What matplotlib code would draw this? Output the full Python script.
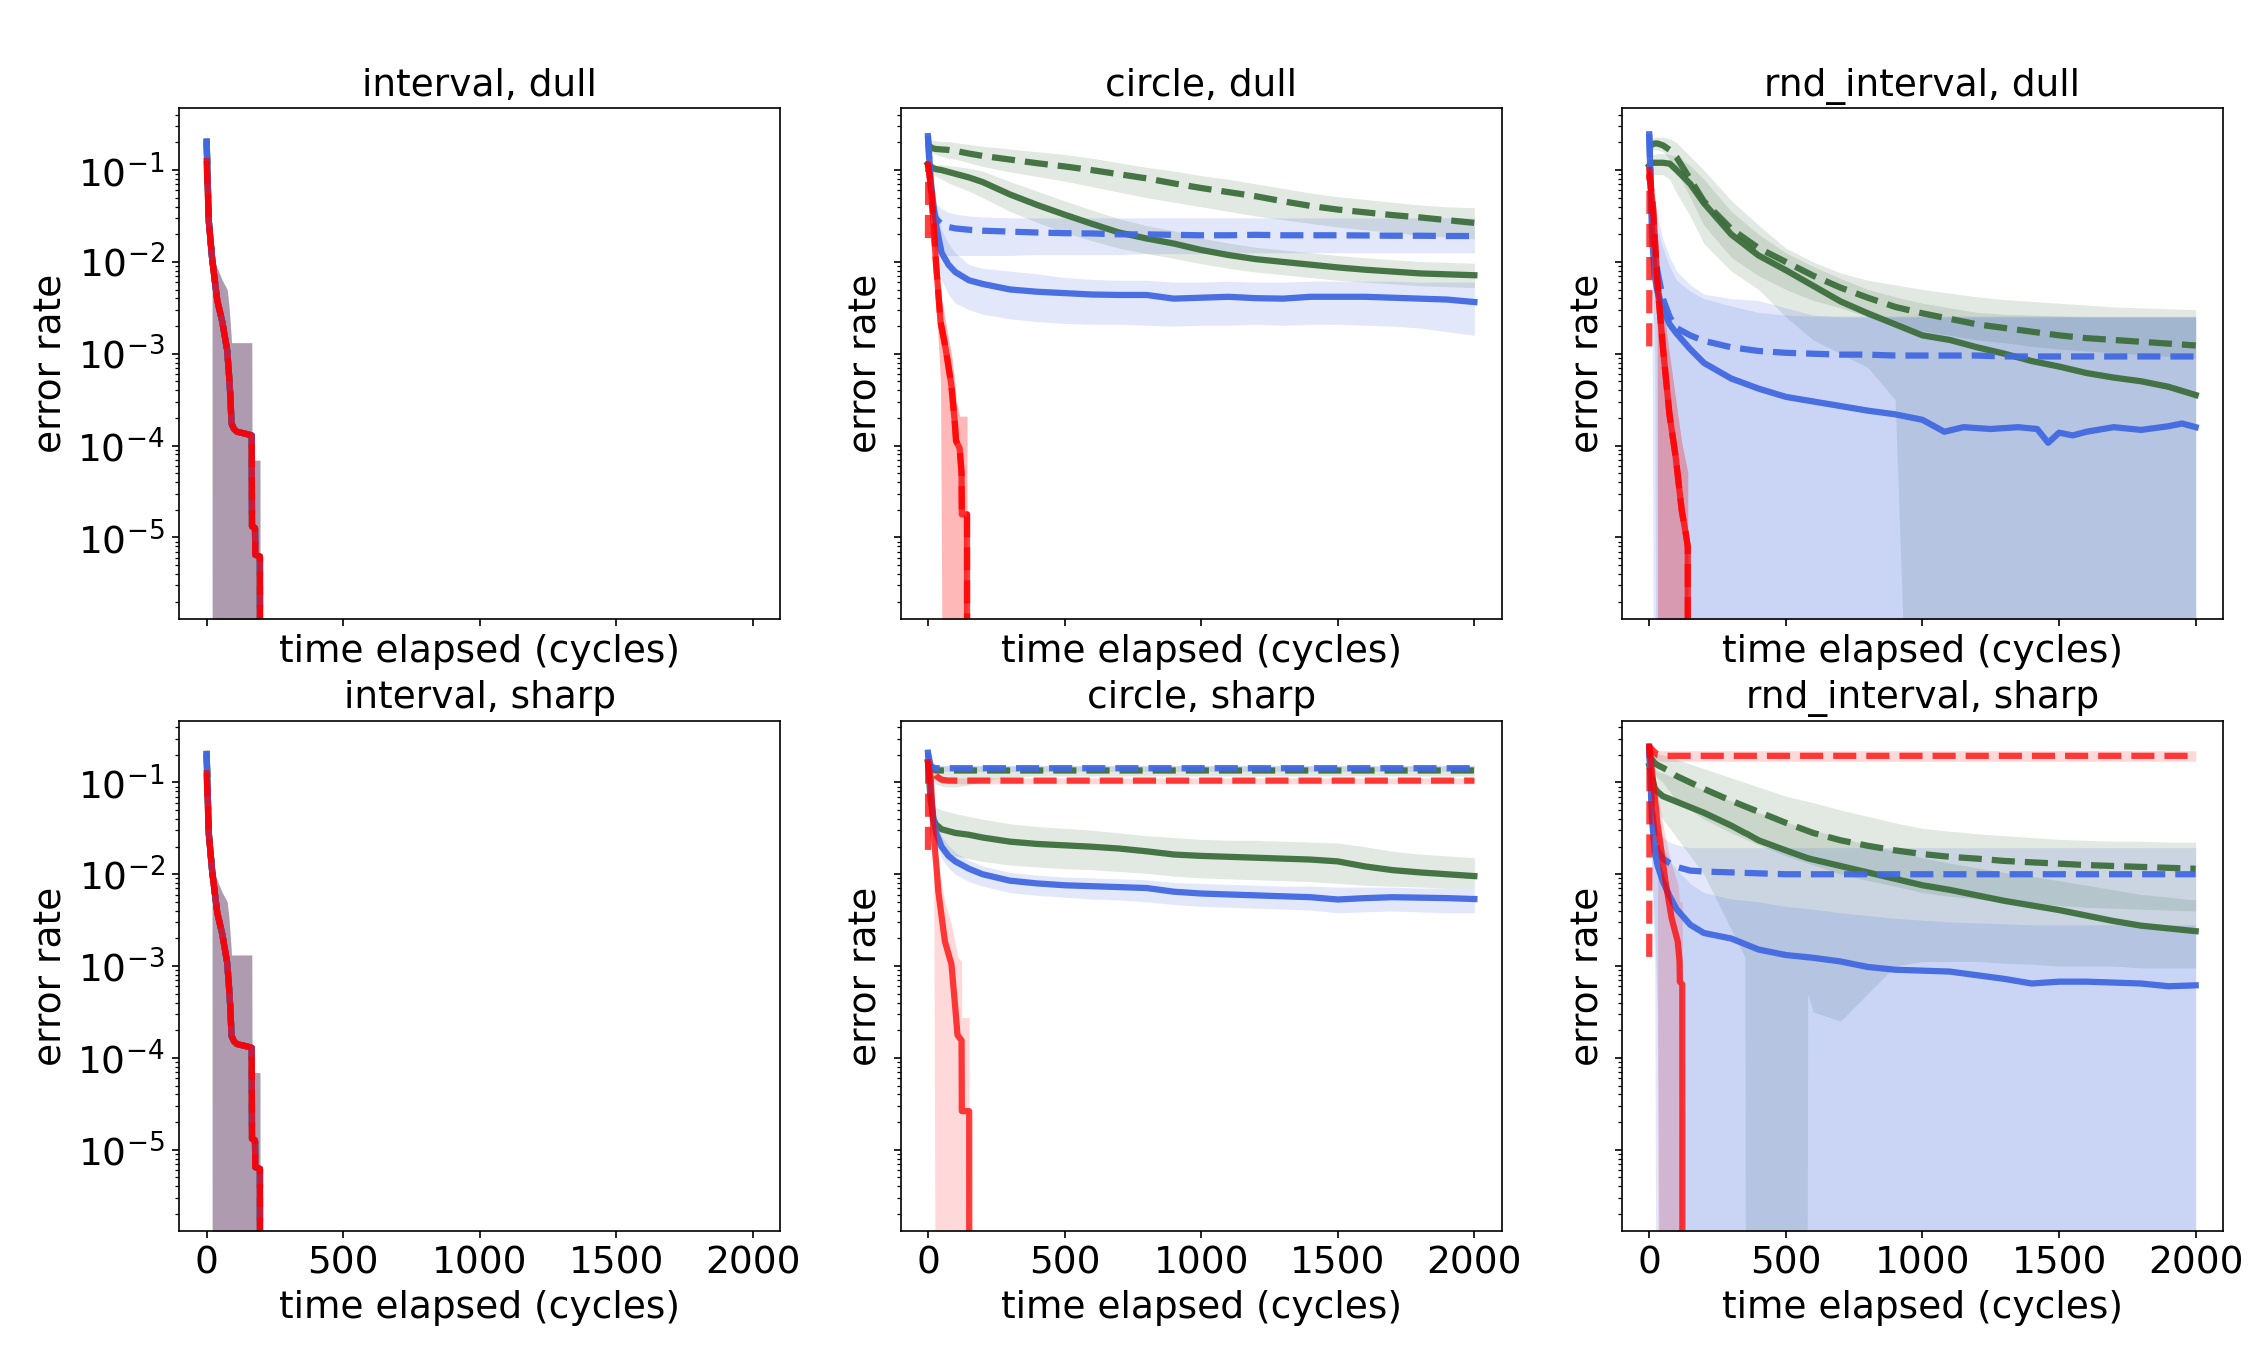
import numpy as np
import matplotlib
matplotlib.use('Agg')
import matplotlib.pyplot as plt

plt.rcParams['font.size'] = 18
plt.rcParams['axes.titlesize'] = 18

# all curve values below are log10(error rate)
# -12 means "dropped to zero" (falls off the bottom of the log axis)

G = [0, 10, 20, 30, 50, 75, 100, 150, 200, 300, 400, 500, 600, 700, 800,
     900, 1000, 1100, 1200, 1300, 1400, 1500, 1600, 1700, 1800, 1900, 2000]

# ---- interval (dull and sharp look the same) ----
int_x = [0, 8, 20, 21, 39, 57, 75, 81, 87, 91, 100, 111, 140, 165, 166, 177, 178, 195, 196]
int_red = [-0.90, -1.56, -1.96, -1.99, -2.42, -2.65, -2.96, -3.19, -3.47, -3.76, -3.82,
           -3.85, -3.87, -3.89, -4.88, -4.90, -5.19, -5.21, -12]
int_blue = [-0.69, -1.56, -1.96, -1.99, -2.42, -2.65, -2.96, -3.19, -3.47, -3.76, -3.82,
            -3.85, -3.87, -3.89, -4.88, -4.90, -5.19, -5.21, -12]
int_hi = [-0.60, -1.30, -1.88, -1.91, -2.07, -2.20, -2.30, -2.46, -2.70, -2.88, -2.88,
          -2.88, -2.88, -2.88, -4.16, -4.16, -4.16, -4.16, -12]
int_lo = [-1.00, -1.75, -2.0, -12, -12, -12, -12, -12, -12, -12, -12, -12, -12, -12, -12,
          -12, -12, -12, -12]

# ---- circle, dull ----
cd_gd = [-0.72, -0.75, -0.765, -0.77, -0.775, -0.78, -0.79, -0.82, -0.845, -0.885, -0.925,
         -0.96, -1.0, -1.045, -1.09, -1.145, -1.195, -1.24, -1.285, -1.34, -1.39, -1.43,
         -1.46, -1.49, -1.515, -1.545, -1.575]
cd_gd_hi = [-0.66, -0.67, -0.68, -0.68, -0.69, -0.69, -0.70, -0.72, -0.74, -0.77, -0.80,
            -0.83, -0.87, -0.92, -0.97, -1.01, -1.06, -1.10, -1.15, -1.20, -1.25, -1.29,
            -1.32, -1.35, -1.38, -1.40, -1.41]
cd_gd_lo = [-0.78, -0.80, -0.82, -0.83, -0.85, -0.87, -0.88, -0.92, -0.96, -1.02, -1.07,
            -1.12, -1.18, -1.24, -1.30, -1.35, -1.40, -1.45, -1.50, -1.54, -1.58, -1.62,
            -1.65, -1.68, -1.71, -1.73, -1.75]
cd_gs = [-0.93, -0.96, -0.98, -0.99, -1.0, -1.02, -1.04, -1.08, -1.13, -1.265, -1.38,
         -1.485, -1.585, -1.68, -1.745, -1.8, -1.87, -1.925, -1.97, -2.0, -2.03, -2.06,
         -2.085, -2.105, -2.125, -2.135, -2.145]
cd_gs_hi = [-0.90, -0.92, -0.93, -0.94, -0.94, -0.95, -0.96, -0.98, -1.01, -1.125, -1.23,
            -1.335, -1.435, -1.53, -1.605, -1.66, -1.74, -1.795, -1.84, -1.87, -1.90, -1.93,
            -1.955, -1.975, -1.995, -2.005, -2.015]
cd_gs_lo = [-0.97, -1.02, -1.05, -1.07, -1.10, -1.14, -1.17, -1.23, -1.30, -1.45, -1.57,
            -1.68, -1.77, -1.85, -1.91, -1.96, -2.02, -2.07, -2.11, -2.14, -2.17, -2.20,
            -2.22, -2.24, -2.26, -2.27, -2.28]
cd_bd = [-0.63, -1.2, -1.45, -1.53, -1.59, -1.62, -1.635, -1.65, -1.66, -1.67, -1.68,
         -1.687, -1.69, -1.70, -1.70, -1.705, -1.71, -1.71, -1.705, -1.71, -1.71, -1.71,
         -1.712, -1.715, -1.715, -1.718, -1.718]
cd_bd_hi = [-0.60, -1.0, -1.3, -1.37, -1.42, -1.46, -1.48, -1.50, -1.51, -1.52, -1.52,
            -1.52, -1.52, -1.52, -1.52, -1.52, -1.52, -1.52, -1.52, -1.52, -1.52, -1.52,
            -1.52, -1.52, -1.52, -1.52, -1.52]
cd_bd_lo = [-0.70, -1.5, -1.8, -1.88, -1.92, -1.93, -1.93, -1.93, -1.93, -1.93, -1.92,
            -1.92, -1.92, -1.92, -1.91, -1.91, -1.91, -1.90, -1.90, -1.90, -1.90, -1.90,
            -1.90, -1.90, -1.90, -1.90, -1.90]
cd_bs = [-0.63, -1.1, -1.38, -1.6, -1.9, -2.03, -2.11, -2.2, -2.24, -2.3, -2.325, -2.34,
         -2.355, -2.36, -2.36, -2.4, -2.39, -2.38, -2.395, -2.4, -2.38, -2.38, -2.38,
         -2.39, -2.4, -2.41, -2.437]
cd_bs_hi = [-0.60, -0.95, -1.2, -1.35, -1.65, -1.8, -1.9, -2.03, -2.07, -2.1, -2.13, -2.17,
            -2.19, -2.2, -2.2, -2.22, -2.22, -2.21, -2.22, -2.22, -2.21, -2.21, -2.21,
            -2.21, -2.22, -2.22, -2.22]
cd_bs_lo = [-0.70, -1.3, -1.6, -1.85, -2.2, -2.35, -2.45, -2.52, -2.57, -2.62, -2.65,
            -2.67, -2.68, -2.68, -2.69, -2.7, -2.69, -2.69, -2.68, -2.69, -2.68, -2.68,
            -2.69, -2.7, -2.72, -2.76, -2.8]
cd_red_x = [0, 1, 13, 29, 46, 62, 70, 86, 98, 103, 116, 123, 124, 143, 144]
cd_rs = [-0.94, -0.94, -1.25, -1.99, -2.65, -2.9, -3.04, -3.35, -3.74, -3.95, -4.03, -4.3,
         -4.75, -4.75, -12]
cd_rd = [-1.74, -0.94, -1.25, -1.99, -2.65, -2.9, -3.04, -3.35, -3.74, -3.95, -4.03, -4.3,
         -4.75, -4.75, -12]
cd_r_hi = [-0.85, -0.85, -1.1, -1.7, -2.35, -2.6, -2.75, -3.0, -3.3, -3.5, -3.68, -3.68,
           -3.68, -3.68, -12]
cd_r_lo = [-1.1, -1.1, -1.5, -2.4, -3.3, -12, -12, -12, -12, -12, -12, -12, -12, -12, -12]

# ---- circle, sharp ----
cs_gd = [-0.75, -0.85, -0.86, -0.87, -0.87, -0.87, -0.87, -0.87, -0.87, -0.87, -0.87,
         -0.87, -0.87, -0.87, -0.87, -0.87, -0.87, -0.87, -0.87, -0.87, -0.87, -0.87,
         -0.87, -0.87, -0.87, -0.87, -0.87]
cs_gd_hi = [-0.70, -0.78, -0.80, -0.81, -0.82, -0.82, -0.82, -0.82, -0.82, -0.82, -0.82,
            -0.82, -0.82, -0.82, -0.82, -0.82, -0.82, -0.82, -0.82, -0.82, -0.82, -0.82,
            -0.82, -0.82, -0.82, -0.82, -0.82]
cs_gd_lo = [-0.80, -0.95, -1.0, -1.02, -1.04, -1.05, -1.05, -1.03, -0.98, -0.94, -0.93,
            -0.93, -0.93, -0.93, -0.93, -0.93, -0.93, -0.93, -0.93, -0.93, -0.93, -0.93,
            -0.93, -0.93, -0.93, -0.93, -0.93]
cs_bd = [-0.676, -0.82, -0.84, -0.845, -0.845, -0.845, -0.845, -0.845, -0.845, -0.845,
         -0.845, -0.845, -0.845, -0.845, -0.845, -0.845, -0.845, -0.845, -0.845, -0.845,
         -0.845, -0.845, -0.845, -0.845, -0.845, -0.845, -0.845]
cs_bd_hi = [-0.64, -0.80, -0.81, -0.815, -0.815, -0.815, -0.815, -0.815, -0.815, -0.815,
            -0.815, -0.815, -0.815, -0.815, -0.815, -0.815, -0.815, -0.815, -0.815, -0.815,
            -0.815, -0.815, -0.815, -0.815, -0.815, -0.815, -0.815]
cs_bd_lo = [-0.72, -0.86, -0.875, -0.88, -0.88, -0.88, -0.88, -0.88, -0.88, -0.88, -0.88,
            -0.88, -0.88, -0.88, -0.88, -0.88, -0.88, -0.88, -0.88, -0.88, -0.88, -0.88,
            -0.88, -0.88, -0.88, -0.88, -0.88]
cs_gs = [-0.78, -1.2, -1.4, -1.46, -1.51, -1.53, -1.55, -1.57, -1.6, -1.645, -1.67, -1.685,
         -1.7, -1.72, -1.75, -1.785, -1.8, -1.81, -1.82, -1.83, -1.84, -1.86, -1.915,
         -1.955, -1.98, -2.0, -2.02]
cs_gs_hi = [-0.75, -1.05, -1.22, -1.27, -1.3, -1.32, -1.34, -1.37, -1.4, -1.45, -1.48,
            -1.5, -1.52, -1.55, -1.58, -1.6, -1.62, -1.63, -1.63, -1.64, -1.65, -1.66,
            -1.7, -1.75, -1.78, -1.8, -1.82]
cs_gs_lo = [-0.82, -1.35, -1.6, -1.68, -1.75, -1.78, -1.8, -1.83, -1.86, -1.9, -1.92,
            -1.94, -1.95, -1.97, -1.99, -2.02, -2.04, -2.05, -2.06, -2.07, -2.08, -2.1,
            -2.12, -2.13, -2.14, -2.15, -2.15]
cs_bs = [-0.676, -1.1, -1.4, -1.55, -1.7, -1.8, -1.86, -1.94, -2.0, -2.07, -2.1, -2.12,
         -2.13, -2.14, -2.15, -2.19, -2.21, -2.22, -2.23, -2.24, -2.25, -2.275, -2.26,
         -2.25, -2.255, -2.26, -2.27]
cs_bs_hi = [-0.64, -1.0, -1.28, -1.43, -1.58, -1.69, -1.76, -1.85, -1.91, -1.98, -2.01,
            -2.03, -2.04, -2.05, -2.06, -2.09, -2.1, -2.11, -2.12, -2.13, -2.13, -2.14,
            -2.14, -2.14, -2.15, -2.15, -2.15]
cs_bs_lo = [-0.72, -1.22, -1.52, -1.68, -1.83, -1.93, -2.0, -2.08, -2.13, -2.2, -2.23,
            -2.25, -2.27, -2.28, -2.3, -2.33, -2.35, -2.36, -2.37, -2.38, -2.39, -2.42,
            -2.41, -2.4, -2.41, -2.42, -2.42]
cs_rd_x = [0, 1, 10, 30, 50, 75, 100, 500, 1000, 1500, 2000]
cs_rd = [-1.735, -0.80, -0.85, -0.93, -0.97, -0.98, -0.98, -0.98, -0.98, -0.98, -0.98]
cs_rd_hi = [-1.60, -0.75, -0.80, -0.89, -0.94, -0.95, -0.95, -0.95, -0.95, -0.95, -0.95]
cs_rd_lo = [-1.90, -0.85, -0.90, -0.98, -1.01, -1.015, -1.015, -1.015, -1.015, -1.015, -1.015]
cs_rs_x = [0, 10, 21, 32, 38, 62, 86, 103, 108, 123, 124, 151, 152]
cs_rs = [-0.78, -0.95, -1.57, -1.95, -2.19, -2.73, -2.98, -3.56, -3.75, -3.81, -4.58,
         -4.58, -12]
cs_rs_hi = [-0.70, -0.85, -1.3, -1.65, -1.9, -2.3, -2.55, -2.8, -2.9, -2.95, -3.56,
            -3.56, -12]
cs_rs_lo = [-0.85, -1.1, -1.9, -12, -12, -12, -12, -12, -12, -12, -12, -12, -12]

# ---- rnd_interval, dull ----
rd_gd = [-0.75, -0.72, -0.71, -0.71, -0.73, -0.78, -0.86, -1.1, -1.34, -1.64, -1.85, -2.0,
         -2.15, -2.28, -2.39, -2.49, -2.56, -2.62, -2.68, -2.72, -2.76, -2.8, -2.83, -2.85,
         -2.87, -2.89, -2.91]
rd_gd_hi = [-0.68, -0.66, -0.64, -0.64, -0.64, -0.66, -0.70, -0.85, -1.0, -1.33, -1.6,
            -1.85, -2.0, -2.12, -2.2, -2.25, -2.3, -2.34, -2.38, -2.41, -2.43, -2.45,
            -2.47, -2.49, -2.5, -2.51, -2.52]
rd_gd_lo = [-0.80, -0.78, -0.78, -0.78, -0.80, -0.88, -1.0, -1.3, -1.6, -1.95, -2.15,
            -2.3, -2.42, -2.5, -2.6, -2.68, -2.75, -2.8, -2.85, -2.88, -2.92, -2.95,
            -2.97, -2.99, -3.01, -3.03, -3.05]
rd_gs = [-0.95, -0.92, -0.92, -0.92, -0.92, -0.93, -1.0, -1.15, -1.36, -1.7, -1.93,
         -2.09, -2.26, -2.43, -2.56, -2.68, -2.8, -2.85, -2.93, -3.0, -3.08, -3.14, -3.21,
         -3.26, -3.3, -3.36, -3.45]
rd_gs_hi = [-0.85, -0.84, -0.83, -0.82, -0.82, -0.83, -0.85, -0.95, -1.1, -1.45, -1.7,
            -1.9, -2.05, -2.18, -2.3, -2.38, -2.45, -2.5, -2.55, -2.57, -2.58, -2.59,
            -2.6, -2.6, -2.6, -2.6, -2.6]
rd_gs_lo = [-1.05, -1.05, -1.05, -1.05, -1.05, -1.1, -1.25, -1.5, -1.8, -2.1, -2.3,
            -2.6, -2.85, -3.0, -3.15, -3.5, -12, -12, -12, -12, -12, -12, -12, -12, -12,
            -12, -12]
rd_bd = [-0.61, -1.5, -1.85, -2.1, -2.4, -2.6, -2.72, -2.8, -2.86, -2.93, -2.97, -2.99,
         -3.0, -3.01, -3.01, -3.02, -3.02, -3.02, -3.02, -3.03, -3.03, -3.03, -3.03,
         -3.03, -3.03, -3.03, -3.03]
rd_bd_hi = [-0.55, -1.2, -1.5, -1.65, -1.85, -2.05, -2.2, -2.32, -2.4, -2.48, -2.55,
            -2.58, -2.59, -2.59, -2.59, -2.59, -2.59, -2.59, -2.59, -2.59, -2.59, -2.59,
            -2.59, -2.59, -2.59, -2.59, -2.59]
rd_bd_lo = [-0.70, -2.0, -3.0, -12, -12, -12, -12, -12, -12, -12, -12, -12, -12, -12,
            -12, -12, -12, -12, -12, -12, -12, -12, -12, -12, -12, -12, -12]
rd_bs_x = [0, 10, 20, 30, 50, 75, 100, 150, 200, 300, 400, 500, 600, 700, 800, 900, 1000,
           1080, 1150, 1250, 1350, 1420, 1460, 1500, 1550, 1600, 1700, 1800, 1900, 1950, 2000]
rd_bs = [-0.61, -1.7, -2.15, -2.32, -2.52, -2.68, -2.78, -2.95, -3.1, -3.27, -3.38, -3.47,
         -3.52, -3.57, -3.62, -3.66, -3.72, -3.85, -3.8, -3.82, -3.8, -3.82, -3.97, -3.86,
         -3.89, -3.85, -3.8, -3.83, -3.79, -3.76, -3.8]
rd_bs_hi = [-0.55, -1.1, -1.35, -1.5, -1.75, -1.95, -2.1, -2.25, -2.35, -2.4, -2.42, -2.5,
            -2.58, -2.6, -2.6, -2.6, -2.6, -2.6, -2.6, -2.6, -2.6, -2.6, -2.6, -2.6, -2.6,
            -2.6, -2.6, -2.6, -2.6, -2.6, -2.6]
rd_bs_lo = [-0.70, -2.2, -12, -12, -12, -12, -12, -12, -12, -12, -12, -12, -12, -12, -12,
            -12, -12, -12, -12, -12, -12, -12, -12, -12, -12, -12, -12, -12, -12, -12, -12]
rd_red_x = [0, 1, 14, 29, 33, 51, 74, 97, 119, 135, 141, 142]
rd_rs = [-1.0, -1.05, -1.41, -2.18, -2.35, -2.96, -3.66, -4.13, -4.71, -4.98, -5.1, -12]
rd_rd = [-2.92, -1.05, -1.41, -2.18, -2.35, -2.96, -3.66, -4.13, -4.71, -4.98, -5.1, -12]
rd_r_hi = [-0.9, -0.95, -1.2, -1.8, -1.95, -2.5, -3.0, -3.5, -3.97, -4.2, -4.3, -12]
rd_rs_lo = [-1.1, -1.1, -1.5, -2.3, -12, -12, -12, -12, -12, -12, -12, -12]
rd_rd_lo = [-4.24, -1.1, -1.5, -2.3, -12, -12, -12, -12, -12, -12, -12, -12]

# ---- rnd_interval, sharp ----
rs_gd = [-0.70, -0.75, -0.79, -0.81, -0.84, -0.88, -0.93, -1.0, -1.07, -1.2, -1.32, -1.44,
         -1.55, -1.63, -1.69, -1.74, -1.78, -1.81, -1.83, -1.855, -1.87, -1.885, -1.9,
         -1.91, -1.92, -1.93, -1.94]
rs_gd_hi = [-0.65, -0.66, -0.68, -0.69, -0.7, -0.72, -0.75, -0.8, -0.85, -0.95, -1.05,
            -1.15, -1.22, -1.3, -1.37, -1.44, -1.5, -1.53, -1.56, -1.58, -1.6, -1.62,
            -1.63, -1.64, -1.64, -1.65, -1.65]
rs_gd_lo = [-0.75, -0.85, -0.9, -0.95, -1.0, -1.1, -1.2, -1.3, -1.4, -1.55, -1.68, -1.8,
            -1.9, -2.0, -2.07, -2.13, -2.2, -2.24, -2.27, -2.3, -2.32, -2.34, -2.36, -2.37,
            -2.38, -2.39, -2.4]
rs_gs_x = [0, 10, 20, 30, 50, 75, 100, 150, 200, 300, 350, 355, 400, 500, 575, 580, 600,
           700, 800, 900, 1000, 1100, 1200, 1300, 1400, 1500, 1600, 1700, 1800, 1900, 2000]
rs_gs = [-0.82, -0.95, -1.06, -1.1, -1.15, -1.18, -1.21, -1.27, -1.33, -1.47, -1.55,
         -1.555, -1.63, -1.74, -1.82, -1.825, -1.84, -1.91, -1.98, -2.05, -2.12, -2.17,
         -2.23, -2.29, -2.34, -2.39, -2.45, -2.51, -2.56, -2.59, -2.62]
rs_gs_hi = [-0.75, -0.8, -0.85, -0.88, -0.9, -0.93, -0.96, -1.02, -1.08, -1.2, -1.26,
            -1.265, -1.33, -1.43, -1.50, -1.505, -1.52, -1.6, -1.68, -1.75, -1.82, -1.88,
            -1.93, -1.98, -2.02, -2.07, -2.12, -2.17, -2.22, -2.25, -2.28]
rs_gs_lo = [-0.9, -1.1, -1.25, -1.3, -1.4, -1.5, -1.6, -1.8, -2.0, -2.6, -2.9, -12, -12,
            -12, -12, -3.3, -3.5, -3.6, -3.3, -3.0, -2.95, -2.95, -2.95, -2.97, -2.98,
            -3.0, -3.0, -3.0, -3.02, -3.02, -3.02]
rs_bd = [-0.61, -1.3, -1.6, -1.74, -1.83, -1.88, -1.92, -1.96, -1.97, -1.98, -1.99, -2.0,
         -2.0, -2.0, -2.0, -2.0, -2.0, -2.0, -2.0, -2.0, -2.0, -2.0, -2.0, -2.0, -2.0,
         -2.0, -2.0]
rs_bd_hi = [-0.55, -1.0, -1.3, -1.5, -1.6, -1.65, -1.68, -1.71, -1.71, -1.71, -1.71,
            -1.71, -1.71, -1.71, -1.71, -1.71, -1.71, -1.71, -1.71, -1.71, -1.71, -1.71,
            -1.71, -1.71, -1.71, -1.71, -1.71]
rs_bd_lo = [-0.70, -2.0, -2.6, -3.5, -12, -12, -12, -12, -12, -12, -12, -12, -12, -12,
            -12, -12, -12, -12, -12, -12, -12, -12, -12, -12, -12, -12, -12]
rs_bs = [-0.61, -1.4, -1.75, -1.9, -2.08, -2.24, -2.38, -2.55, -2.64, -2.7, -2.82, -2.88,
         -2.91, -2.95, -3.01, -3.04, -3.05, -3.06, -3.1, -3.14, -3.19, -3.17, -3.17, -3.18,
         -3.19, -3.22, -3.21]
rs_bs_hi = [-0.55, -1.1, -1.35, -1.5, -1.7, -1.85, -1.95, -2.1, -2.2, -2.27, -2.3, -2.35,
            -2.38, -2.42, -2.45, -2.48, -2.5, -2.52, -2.53, -2.54, -2.55, -2.55, -2.55,
            -2.55, -2.55, -2.55, -2.55]
rs_bs_lo = [-0.70, -2.0, -3.0, -12, -12, -12, -12, -12, -12, -12, -12, -12, -12, -12,
            -12, -12, -12, -12, -12, -12, -12, -12, -12, -12, -12, -12, -12]
rs_rd_x = [0, 1, 10, 30, 50, 100, 500, 1000, 1500, 2000]
rs_rd = [-2.9, -0.61, -0.64, -0.70, -0.71, -0.71, -0.71, -0.71, -0.71, -0.71]
rs_rd_hi = [-2.7, -0.58, -0.60, -0.65, -0.655, -0.655, -0.655, -0.655, -0.655, -0.655]
rs_rd_lo = [-4.23, -0.66, -0.70, -0.76, -0.77, -0.77, -0.77, -0.77, -0.77, -0.77]
rs_rs_x = [0, 1, 14, 30, 36, 59, 82, 104, 108, 111, 112, 121, 122]
rs_rs = [-0.61, -0.61, -0.99, -1.45, -1.57, -2.07, -2.48, -2.73, -2.85, -2.95, -3.17,
         -3.2, -12]
rs_rs_hi = [-0.58, -0.58, -0.8, -1.1, -1.2, -1.6, -1.9, -2.1, -2.2, -2.3, -2.3, -2.3, -12]
rs_rs_lo = [-0.65, -0.65, -1.2, -1.8, -12, -12, -12, -12, -12, -12, -12, -12, -12]

GREEN = '#3d6e3d'
BLUE = '#4169e1'
RED = 'red'


def curve(ax, x, mid, lo, hi, color, ls, alpha, band=True):
    x = np.asarray(x, dtype=float)
    if band:
        ax.fill_between(x, np.power(10.0, lo), np.power(10.0, hi),
                        color=color, alpha=0.15, lw=0)
    ax.plot(x, np.power(10.0, mid), color=color, ls=ls, lw=3, alpha=alpha)


fig, axes = plt.subplots(2, 3, sharex=True, sharey=True, figsize=(15, 1355 / 150))
fig.subplots_adjust(left=0.0797, right=0.988, bottom=0.0915, top=0.920,
                    wspace=0.2, hspace=0.2)

# interval (dull / sharp)
for ax in (axes[0, 0], axes[1, 0]):
    curve(ax, int_x, int_blue, int_lo, int_hi, GREEN, '-', 0.95)
    curve(ax, int_x, int_blue, int_lo, int_hi, GREEN, '--', 0.95)
    curve(ax, int_x, int_blue, int_lo, int_hi, BLUE, '-', 0.95)
    curve(ax, int_x, int_blue, int_lo, int_hi, BLUE, '--', 0.95)
    curve(ax, int_x, int_red, int_lo, int_hi, RED, '-', 0.75)
    curve(ax, int_x, int_red, int_lo, int_hi, RED, '--', 0.75, band=False)

# circle, dull
ax = axes[0, 1]
curve(ax, G, cd_gs, cd_gs_lo, cd_gs_hi, GREEN, '-', 0.95)
curve(ax, G, cd_gd, cd_gd_lo, cd_gd_hi, GREEN, '--', 0.95)
curve(ax, G, cd_bs, cd_bs_lo, cd_bs_hi, BLUE, '-', 0.95)
curve(ax, G, cd_bd, cd_bd_lo, cd_bd_hi, BLUE, '--', 0.95)
curve(ax, cd_red_x, cd_rs, cd_r_lo, cd_r_hi, RED, '-', 0.75)
curve(ax, cd_red_x, cd_rd, cd_r_lo, cd_r_hi, RED, '--', 0.75)

# circle, sharp
ax = axes[1, 1]
curve(ax, G, cs_gs, cs_gs_lo, cs_gs_hi, GREEN, '-', 0.95)
curve(ax, G, cs_gd, cs_gd_lo, cs_gd_hi, GREEN, '--', 0.95)
curve(ax, G, cs_bs, cs_bs_lo, cs_bs_hi, BLUE, '-', 0.95)
curve(ax, G, cs_bd, cs_bd_lo, cs_bd_hi, BLUE, '--', 0.95)
curve(ax, cs_rs_x, cs_rs, cs_rs_lo, cs_rs_hi, RED, '-', 0.75)
curve(ax, cs_rd_x, cs_rd, cs_rd_lo, cs_rd_hi, RED, '--', 0.75)

# rnd_interval, dull
ax = axes[0, 2]
curve(ax, G, rd_gs, rd_gs_lo, rd_gs_hi, GREEN, '-', 0.95)
curve(ax, G, rd_gd, rd_gd_lo, rd_gd_hi, GREEN, '--', 0.95)
curve(ax, rd_bs_x, rd_bs, rd_bs_lo, rd_bs_hi, BLUE, '-', 0.95)
curve(ax, G, rd_bd, rd_bd_lo, rd_bd_hi, BLUE, '--', 0.95)
curve(ax, rd_red_x, rd_rs, rd_rs_lo, rd_r_hi, RED, '-', 0.75)
curve(ax, rd_red_x, rd_rd, rd_rd_lo, rd_r_hi, RED, '--', 0.75)

# rnd_interval, sharp
ax = axes[1, 2]
curve(ax, rs_gs_x, rs_gs, rs_gs_lo, rs_gs_hi, GREEN, '-', 0.95)
curve(ax, G, rs_gd, rs_gd_lo, rs_gd_hi, GREEN, '--', 0.95)
curve(ax, G, rs_bs, rs_bs_lo, rs_bs_hi, BLUE, '-', 0.95)
curve(ax, G, rs_bd, rs_bd_lo, rs_bd_hi, BLUE, '--', 0.95)
curve(ax, rs_rs_x, rs_rs, rs_rs_lo, rs_rs_hi, RED, '-', 0.75)
curve(ax, rs_rd_x, rs_rd, rs_rd_lo, rs_rd_hi, RED, '--', 0.75)

titles = [['interval, dull', 'circle, dull', 'rnd_interval, dull'],
          ['interval, sharp', 'circle, sharp', 'rnd_interval, sharp']]
for i in range(2):
    for j in range(3):
        ax = axes[i, j]
        ax.set_yscale('log')
        ax.set_title(titles[i][j])
        ax.set_xlabel('time elapsed (cycles)')
        ax.set_ylabel('error rate')

axes[0, 0].set_ylim(1.3e-6, 0.47)
axes[0, 0].set_xlim(-100, 2100)
axes[0, 0].set_xticks([0, 500, 1000, 1500, 2000])

plt.savefig('out.png', dpi=150)
